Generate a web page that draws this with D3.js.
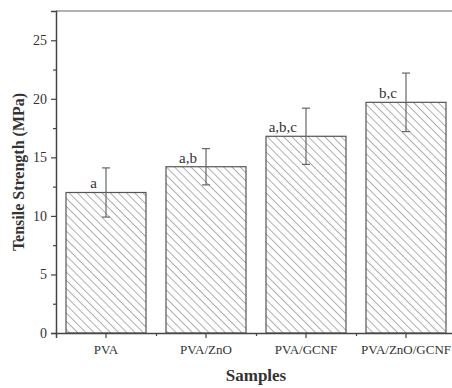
<!DOCTYPE html>
<html>
<head>
<meta charset="utf-8">
<script src="https://cdn.jsdelivr.net/npm/d3@7"></script>
<style>
  body { margin: 0; background: #fff; }
  svg text { font-family: "Liberation Serif", "DejaVu Serif", serif; fill: #333; }
</style>
</head>
<body>
<svg id="chart" width="452" height="388"></svg>
<script>
const samples = ["PVA", "PVA/ZnO", "PVA/GCNF", "PVA/ZnO/GCNF"];
const strength = [12.0, 14.2, 16.8, 19.7];
const errors = [2.1, 1.55, 2.4, 2.5];
const letters = ["a", "a,b", "a,b,c", "b,c"];
const yTicks = [0, 5, 10, 15, 20, 25];

const serif = "Liberation Serif, DejaVu Serif, serif";
const svg = d3.select("#chart");
const margin = { top: 11, left: 56, bottom: 55 };
const height = 388 - margin.bottom;

const x = d3.scaleBand().domain(samples).range([56, 456]).paddingInner(0.2).paddingOuter(0.1);
const y = d3.scaleLinear().domain([0, 27.5]).range([height, margin.top]);

// hatch pattern, lines running top-left to bottom-right
const defs = svg.append("defs");
const pat = defs.append("pattern")
    .attr("id", "hatch")
    .attr("patternUnits", "userSpaceOnUse")
    .attr("width", 5.8).attr("height", 5.8)
    .attr("patternTransform", "rotate(45)");
pat.append("line")
    .attr("x1", 0).attr("y1", 0).attr("x2", 5.8).attr("y2", 0)
    .attr("stroke", "#6e6e6e").attr("stroke-width", 1.1);

// bars
svg.selectAll("rect.bar")
    .data(samples)
    .enter()
    .append("rect")
    .attr("class", "bar")
    .attr("x", d => x(d))
    .attr("width", x.bandwidth())
    .attr("y", (d, i) => y(strength[i]))
    .attr("height", (d, i) => y(0) - y(strength[i]))
    .attr("fill", "url(#hatch)")
    .attr("stroke", "#555")
    .attr("stroke-width", 1.2);

// error bars
const cx = d => x(d) + x.bandwidth() / 2;
const err = svg.append("g").attr("stroke", "#666").attr("stroke-width", 1.2);
samples.forEach((s, i) => {
    const top = y(strength[i] + errors[i]);
    const bot = y(strength[i] - errors[i]);
    err.append("line").attr("x1", cx(s)).attr("x2", cx(s)).attr("y1", top).attr("y2", bot);
    err.append("line").attr("x1", cx(s) - 4).attr("x2", cx(s) + 4).attr("y1", top).attr("y2", top);
    err.append("line").attr("x1", cx(s) - 4).attr("x2", cx(s) + 4).attr("y1", bot).attr("y2", bot);
});

// significance letters
svg.selectAll("text.letter")
    .data(samples)
    .enter()
    .append("text")
    .attr("class", "letter")
    .attr("x", d => cx(d) - 9)
    .attr("y", (d, i) => y(strength[i]) - 4)
    .attr("text-anchor", "end")
    .attr("font-family", serif)
    .style("font-size", "15px")
    .text((d, i) => letters[i]);

// top frame
svg.append("line")
    .attr("x1", 56).attr("x2", 452)
    .attr("y1", margin.top).attr("y2", margin.top)
    .attr("stroke", "#999").attr("stroke-width", 1.5);

// y axis
svg.append("g")
    .attr("transform", `translate(56,0)`)
    .call(d3.axisLeft(y).tickValues(yTicks).tickSize(5).tickPadding(4));
svg.append("g")
    .attr("transform", `translate(56,0)`)
    .call(d3.axisLeft(y).tickValues(d3.range(2.5, 27.5, 5)).tickSize(3).tickFormat(""))
    .call(g => g.select(".domain").remove());

// x axis
svg.append("g")
    .attr("class", "x-axis")
    .attr("transform", `translate(0,${height})`)
    .call(d3.axisBottom(x).tickSize(5).tickPadding(7));
svg.append("g")
    .attr("transform", `translate(0,${height})`)
    .call(d3.axisBottom(d3.scaleLinear().domain([0, 4]).range([56, 456]))
        .tickValues([1, 2, 3]).tickSize(3).tickFormat(""))
    .call(g => g.select(".domain").remove());

svg.selectAll("g").attr("font-family", serif);
svg.selectAll(".domain").attr("stroke", "#444").attr("stroke-width", 1.5);
svg.selectAll(".tick line").attr("stroke", "#444").attr("stroke-width", 1.2);
svg.selectAll(".tick text")
    .attr("font-family", serif)
    .attr("font-size", 14)
    .attr("fill", "#333");
svg.selectAll(".x-axis .tick text").attr("font-size", 13);

// axis titles
svg.append("text")
    .attr("transform", `translate(24,${(margin.top + height) / 2}) rotate(-90)`)
    .attr("text-anchor", "middle")
    .attr("font-family", serif)
    .style("font-size", "16px")
    .style("font-weight", "bold")
    .text("Tensile Strength (MPa)");

svg.append("text")
    .attr("x", 256)
    .attr("y", 381)
    .attr("text-anchor", "middle")
    .attr("font-family", serif)
    .style("font-size", "17px")
    .style("font-weight", "bold")
    .text("Samples");
</script>
</body>
</html>
